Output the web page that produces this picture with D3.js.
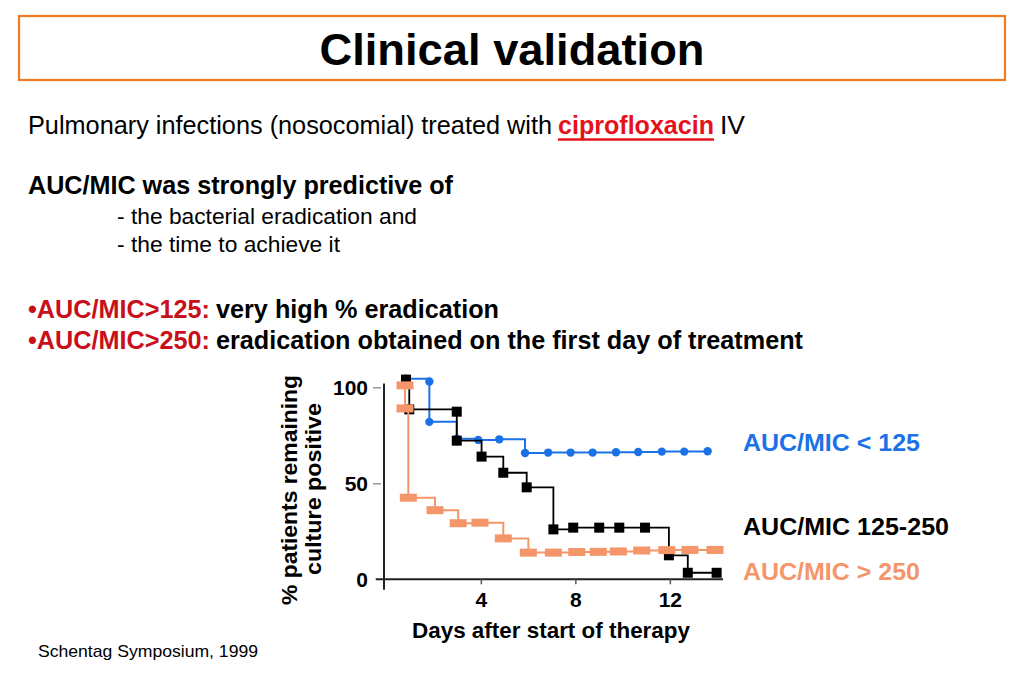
<!DOCTYPE html>
<html>
<head>
<meta charset="utf-8">
<script src="https://cdn.jsdelivr.net/npm/d3@7"></script>
<style>
  html, body { margin: 0; padding: 0; background: #fff; }
  svg { display: block; font-family: "Liberation Sans", Arial, Helvetica, sans-serif; }
</style>
</head>
<body>
<svg id="chart" width="1024" height="683"></svg>
<script>
// ---------------- DATA ----------------
const seriesNames = ["AUC/MIC < 125", "AUC/MIC 125-250", "AUC/MIC > 250"];

const lowDays   = [0.83, 1.82, 1.82, 2.98, 3.89, 4.78, 5.87, 6.85, 7.80, 8.73, 9.72, 10.66, 11.66, 12.61, 13.60];
const lowValues = [104.5, 103, 82, 73.2, 72.6, 72.9, 65.8, 66, 66, 66, 66.2, 66.3, 66.5, 66.5, 66.7];

const midDays   = [0.83, 0.97, 2.98, 2.98, 4.03, 4.95, 5.94, 7.07, 7.91, 9.01, 9.86, 10.95, 11.96, 12.76, 13.98];
const midValues = [104, 88.5, 87.3, 72.2, 63.9, 55.5, 47.9, 26.0, 26.9, 26.9, 26.9, 26.9, 12.5, 3.4, 3.4];

const highDays   = [0.79, 0.79, 0.93, 2.06, 3.04, 3.96, 4.95, 6.01, 7.07, 8.06, 8.97, 9.82, 10.81, 11.87, 12.85, 13.91];
const highValues = [101, 89, 42.5, 36, 29.2, 29.5, 21.3, 13.9, 13.9, 14.2, 14.3, 14.5, 15.0, 15.2, 15.3, 15.3];

const xTicks = [4, 8, 12];
const yTicks = [0, 50, 100];

// ---------------- STYLES ----------------
const cBlue = "#1b72e8", cBlack = "#000000", cOrange = "#f4956a";
const cRed = "#c8101a", cCipro = "#e5121c";

const svg = d3.select("#chart");

// Title box
svg.append("rect").attr("x", 19).attr("y", 16).attr("width", 986).attr("height", 64)
  .attr("fill", "#fff").attr("stroke", "#f07a22").attr("stroke-width", 2.2);
svg.append("text").attr("x", 512).attr("y", 65).attr("text-anchor", "middle")
  .attr("font-size", 45).attr("font-weight", "bold")
  .attr("textLength", 385).attr("lengthAdjust", "spacingAndGlyphs")
  .text("Clinical validation");

function txt(x, y, s, opts) {
  const t = svg.append("text").attr("x", x).attr("y", y)
    .attr("font-size", opts.size).attr("fill", opts.color || "#000")
    .attr("font-weight", opts.bold ? "bold" : "normal").text(s);
  if (opts.len) t.attr("textLength", opts.len).attr("lengthAdjust", "spacingAndGlyphs");
  return t;
}

txt(28, 134, "Pulmonary infections (nosocomial) treated with", {size: 25, len: 524});
txt(558, 134, "ciprofloxacin", {size: 25, bold: true, color: cCipro, len: 156});
svg.append("line").attr("x1", 558).attr("x2", 714).attr("y1", 139.5).attr("y2", 139.5)
  .attr("stroke", cCipro).attr("stroke-width", 2.5);
txt(720, 134, "IV", {size: 25, len: 25});

txt(28, 194, "AUC/MIC was strongly predictive of", {size: 25, bold: true, len: 425});
txt(117, 224, "- the bacterial eradication and", {size: 22, len: 300});
txt(117, 252, "- the time to achieve it", {size: 22, len: 223});

txt(28, 318, "\u2022AUC/MIC>125:", {size: 25, bold: true, color: cRed, len: 182});
txt(216, 318, "very high % eradication", {size: 25, bold: true, len: 283});
txt(28, 349, "\u2022AUC/MIC>250:", {size: 25, bold: true, color: cRed, len: 182});
txt(216, 349, "eradication obtained on the first day of treatment", {size: 25, bold: true, len: 587});

txt(38, 657, "Schentag Symposium, 1999", {size: 17, len: 220});

// ---------------- CHART ----------------
const x = d3.scaleLinear().domain([-0.1, 14.25]).range([384, 723]);
const y = d3.scaleLinear().domain([0, 100]).range([579.3, 387.3]);

// y axis line (extends a little below x axis)
svg.append("line").attr("x1", x(-0.1)).attr("x2", x(-0.1))
  .attr("y1", y(102)).attr("y2", y(-5.5)).attr("stroke", "#222").attr("stroke-width", 2);
// x axis line (extends a little left of y axis)
svg.append("line").attr("x1", x(-0.45)).attr("x2", x(14.25))
  .attr("y1", y(0)).attr("y2", y(0)).attr("stroke", "#222").attr("stroke-width", 2);

const yAxis = svg.append("g").attr("transform", `translate(${x(-0.1) - 3},0)`)
  .call(d3.axisLeft(y).tickValues(yTicks).tickSize(8).tickPadding(5).tickFormat(d3.format("d")));
yAxis.select(".domain").remove();
yAxis.selectAll(".tick line").attr("stroke", "#999").attr("stroke-width", 1.5);
yAxis.selectAll(".tick text").attr("font-size", 21).attr("font-weight", "bold")
  .attr("font-family", "Liberation Sans, Arial, sans-serif").attr("fill", "#000");
yAxis.selectAll(".tick").filter(d => d === 0).select("line").remove();

const xAxis = svg.append("g").attr("transform", `translate(0,${y(0)})`)
  .call(d3.axisBottom(x).tickValues(xTicks).tickSize(5).tickPadding(8).tickFormat(d3.format("d")));
xAxis.select(".domain").remove();
xAxis.selectAll(".tick line").attr("stroke", "#555").attr("stroke-width", 1.5);
xAxis.selectAll(".tick text").attr("font-size", 21).attr("font-weight", "bold")
  .attr("font-family", "Liberation Sans, Arial, sans-serif").attr("fill", "#000");

// axis titles
svg.append("text").attr("x", 551).attr("y", 638).attr("text-anchor", "middle")
  .attr("font-size", 22).attr("font-weight", "bold")
  .attr("textLength", 278).attr("lengthAdjust", "spacingAndGlyphs")
  .text("Days after start of therapy");
svg.append("text").attr("transform", "translate(297,490) rotate(-90)").attr("text-anchor", "middle")
  .attr("font-size", 22).attr("font-weight", "bold")
  .attr("textLength", 230).attr("lengthAdjust", "spacingAndGlyphs")
  .text("% patients remaining");
svg.append("text").attr("transform", "translate(321,489) rotate(-90)").attr("text-anchor", "middle")
  .attr("font-size", 22).attr("font-weight", "bold")
  .attr("textLength", 172).attr("lengthAdjust", "spacingAndGlyphs")
  .text("culture positive");

const line = d3.line().x(d => x(d[0])).y(d => y(d[1])).curve(d3.curveStepAfter);
const zip = (a, b) => a.map((d, i) => [d, b[i]]);

const low = zip(lowDays, lowValues);
const mid = zip(midDays, midValues);
const high = zip(highDays, highValues);

// blue
svg.append("path").datum(low).attr("d", line).attr("fill", "none")
  .attr("stroke", cBlue).attr("stroke-width", 2);
svg.append("g").selectAll("circle").data(low).join("circle")
  .attr("cx", d => x(d[0])).attr("cy", d => y(d[1])).attr("r", 4.2).attr("fill", cBlue);

// black
svg.append("path").datum(mid).attr("d", line).attr("fill", "none")
  .attr("stroke", cBlack).attr("stroke-width", 1.8);
svg.append("g").selectAll("rect").data(mid).join("rect")
  .attr("x", d => x(d[0]) - 5).attr("y", d => y(d[1]) - 5)
  .attr("width", 10).attr("height", 10).attr("fill", cBlack);

// orange
svg.append("path").datum(high).attr("d", line).attr("fill", "none")
  .attr("stroke", cOrange).attr("stroke-width", 2);
svg.append("g").selectAll("rect").data(high).join("rect")
  .attr("x", d => x(d[0]) - 8.5).attr("y", d => y(d[1]) - 4)
  .attr("width", 17).attr("height", 8).attr("fill", cOrange);

// legend labels
const legendY = [451, 535, 580];
const legendLen = [177, 206, 177];
const legendColors = [cBlue, cBlack, cOrange];
svg.append("g").selectAll("text").data(seriesNames).join("text")
  .attr("x", 743).attr("y", (d, i) => legendY[i])
  .attr("font-size", 23).attr("font-weight", "bold")
  .attr("fill", (d, i) => legendColors[i])
  .attr("textLength", (d, i) => legendLen[i]).attr("lengthAdjust", "spacingAndGlyphs")
  .text(d => d);
</script>
</body>
</html>
